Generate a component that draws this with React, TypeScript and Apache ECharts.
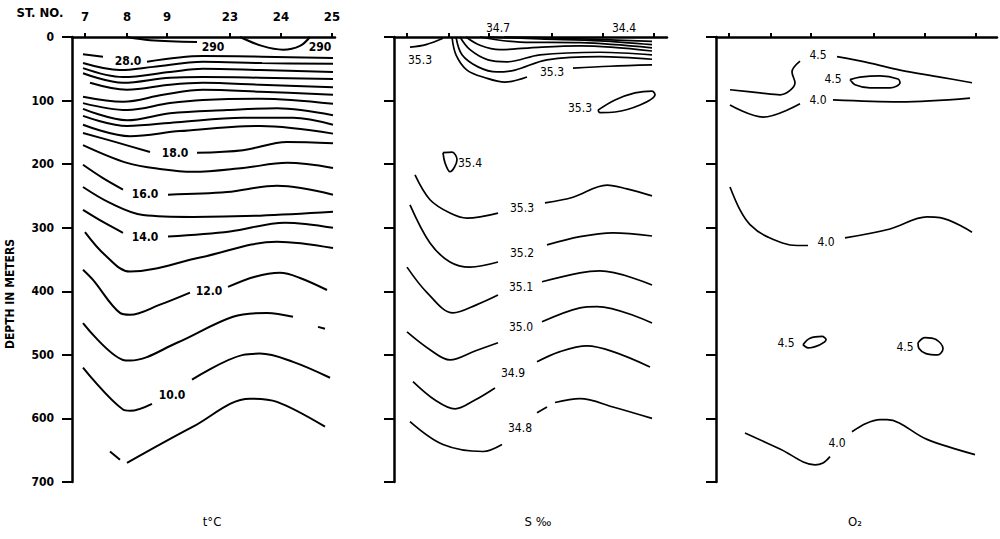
import React, { useEffect, useRef } from 'react';
import * as echarts from 'echarts';

// ---------- axes ----------
const depthMin = 0;
const depthMax = 700;
const depthStep = 100;
const stationNames = ['7', '8', '9', '23', '24', '25'];
const stationPos = [13, 55, 95, 158, 209, 260];
const panelWidths = [263, 273, 281];
const panelTitles = ['t°C', 'S ‰', 'O₂'];

// ---------- panel 1 : temperature (x = distance, y = depth m) ----------
const t29a = [[55, 0], [78, 5], [125, 8]];
const t29b = [[168, 0], [190, 14], [211, 20], [228, 14], [238, 0]];
const t28a = [[11, 27], [31, 31]];
const t28b = [[75, 39], [131, 30], [190, 31], [261, 33]];
const t27 = [[11, 41], [48, 52], [81, 47], [131, 39], [190, 41], [261, 42]];
const t26 = [[11, 49], [51, 63], [98, 55], [131, 50], [188, 52], [261, 55]];
const t25 = [[11, 57], [51, 72], [98, 64], [131, 63], [188, 64], [261, 66]];
const t24 = [[18, 72], [55, 83], [98, 75], [131, 72], [188, 75], [261, 79]];
const t23 = [[11, 94], [51, 102], [91, 91], [131, 83], [188, 86], [261, 91]];
const t22 = [[11, 104], [55, 115], [98, 104], [131, 99], [188, 97], [261, 105]];
const t21 = [[11, 113], [55, 131], [98, 120], [155, 115], [205, 112], [261, 123]];
const t20 = [[11, 124], [55, 140], [105, 134], [171, 127], [221, 127], [261, 138]];
const t19 = [[11, 138], [58, 156], [108, 148], [188, 140], [261, 152]];
const t18a = [[11, 151], [43, 165], [78, 181]];
const t18b = [[125, 182], [171, 178], [215, 165], [261, 167]];
const t17 = [[11, 170], [55, 198], [90, 208], [121, 212], [171, 206], [215, 198], [261, 206]];
const t16a = [[11, 201], [31, 222], [51, 240]];
const t16b = [[96, 248], [155, 244], [205, 234], [261, 248]];
const t15 = [[11, 236], [38, 261], [71, 280], [121, 283], [188, 281], [261, 275]];
const t14a = [[11, 272], [31, 291], [51, 308]];
const t14b = [[96, 314], [158, 306], [213, 292], [261, 300]];
const t13 = [[13, 307], [33, 343], [58, 369], [128, 347], [205, 322], [261, 332]];
const t12a = [[11, 366], [21, 382], [48, 434], [58, 437], [88, 421], [118, 402]];
const t12b = [[156, 393], [183, 377], [208, 371], [228, 379], [255, 398]];
const t11a = [[11, 450], [51, 508], [58, 509], [105, 481], [161, 440], [195, 434], [221, 440]];
const t11b = [[246, 456], [253, 459]];
const t10a = [[11, 520], [51, 586], [58, 588], [80, 577]];
const t10b = [[120, 539], [171, 500], [188, 498], [221, 511], [258, 536]];
const t9a = [[38, 652], [48, 665]];
const t9b = [[55, 670], [121, 613], [178, 569], [205, 574], [253, 613]];
const tempLines = [t29a, t29b, t28a, t28b, t27, t26, t25, t24, t23, t22, t21, t20, t19, t18a, t18b,
  t17, t16a, t16b, t15, t14a, t14b, t13, t12a, t12b, t11a, t11b, t10a, t10b, t9a, t9b];
const tempLabels: [number, number, string][] = [
  [141, 16, '290'], [248, 16, '290'], [56, 38, '28.0'], [103, 182, '18.0'],
  [73, 247, '16.0'], [73, 314, '14.0'], [137, 399, '12.0'], [100, 563, '10.0'],
];

// ---------- panel 2 : salinity ----------
const s353top = [[16, 16], [32, 12], [49, 2]];
const sAleft = [[58, 0], [62, 28], [73, 52], [91, 64], [111, 71], [133, 63]];
const sAright = [[179, 49], [216, 46], [258, 44]];
const sB = [[62, 0], [68, 28], [84, 47], [103, 55], [121, 52], [153, 36], [206, 31], [258, 35]];
const sC = [[66, 0], [76, 20], [94, 36], [113, 39], [146, 28], [206, 24], [258, 28]];
const sD = [[72, 0], [86, 13], [106, 20], [136, 17], [186, 14], [258, 22]];
const sE = [[86, 0], [126, 8], [186, 9], [258, 17]];
const sF = [[96, 0], [146, 3], [206, 6], [258, 12]];
const sG = [[110, 0], [166, 2], [258, 7]];
const s353eye = [[204, 115], [221, 99], [241, 88], [258, 85], [261, 91], [246, 107], [221, 118], [206, 119], [204, 115]];
const s354 = [[49, 182], [58, 181], [63, 193], [56, 212], [51, 198], [49, 182]];
const s353a = [[21, 217], [36, 256], [56, 277], [73, 285], [104, 277]];
const s353b = [[151, 261], [179, 252], [213, 233], [233, 239], [258, 250]];
const s352a = [[16, 264], [36, 324], [56, 354], [76, 362], [104, 354]];
const s352b = [[153, 327], [186, 314], [219, 308], [258, 313]];
const s351a = [[13, 362], [33, 402], [59, 434], [83, 421], [104, 406]];
const s351b = [[148, 385], [186, 371], [206, 368], [258, 390]];
const s350a = [[13, 464], [36, 492], [56, 508], [81, 494], [104, 481]];
const s350b = [[148, 448], [186, 426], [203, 424], [258, 450]];
const s349a = [[19, 542], [41, 571], [61, 585], [81, 571], [101, 552]];
const s349b = [[143, 511], [166, 495], [193, 486], [219, 495], [256, 519]];
const s348a = [[16, 605], [49, 641], [89, 652], [108, 641]];
const s348b = [[143, 591], [153, 582]];
const s348c = [[161, 575], [186, 569], [219, 582], [258, 600]];
const salLines = [s353top, sAleft, sAright, sB, sC, sD, sE, sF, sG, s353eye, s354, s353a, s353b,
  s352a, s352b, s351a, s351b, s350a, s350b, s349a, s349b, s348a, s348b, s348c];
const salLabels: [number, number, string][] = [
  [104, -14, '34.7'], [230, -14, '34.4'], [26, 36, '35.3'], [158, 55, '35.3'], [186, 112, '35.3'],
  [76, 198, '35.4'], [128, 269, '35.3'], [128, 340, '35.2'], [127, 393, '35.1'], [127, 456, '35.0'],
  [119, 528, '34.9'], [126, 615, '34.8'],
];

// ---------- panel 3 : oxygen ----------
const o45a = [[14, 83], [44, 88], [64, 91], [79, 72], [76, 55], [84, 38]];
const o45b = [[121, 31], [154, 41], [184, 52], [224, 63], [256, 72]];
const o45eye = [[134, 67], [144, 63], [164, 61], [182, 66], [184, 72], [174, 80], [154, 80], [139, 75], [134, 67]];
const o40a = [[14, 107], [47, 126], [84, 105]];
const o40b = [[117, 99], [184, 102], [254, 96]];
const o40ma = [[14, 236], [24, 272], [34, 295], [51, 314], [81, 328], [92, 328]];
const o40mb = [[129, 316], [174, 302], [211, 283], [224, 284], [256, 307]];
const o45l = [[87, 484], [94, 474], [106, 471], [110, 476], [104, 484], [92, 489], [87, 484]];
const o45r = [[202, 481], [209, 473], [220, 476], [227, 490], [222, 500], [210, 498], [203, 490], [202, 481]];
const o40ba = [[29, 623], [64, 648], [99, 673], [107, 670], [114, 660]];
const o40bb = [[136, 621], [150, 608], [164, 602], [171, 602], [211, 633], [259, 657]];
const oxyLines = [o45a, o45b, o45eye, o40a, o40b, o40ma, o40mb, o45l, o45r, o40ba, o40bb];
const oxyLabels: [number, number, string][] = [
  [102, 28, '4.5'], [117, 66, '4.5'], [102, 99, '4.0'], [110, 322, '4.0'],
  [70, 481, '4.5'], [189, 487, '4.5'], [121, 638, '4.0'],
];

const FONT = "'DejaVu Sans Condensed','Liberation Sans Narrow','DejaVu Sans',sans-serif";

export default function App() {
  const ref = useRef<HTMLDivElement>(null);
  useEffect(() => {
    if (!ref.current) return;
    const chart = echarts.init(ref.current, null, { renderer: 'svg' });
    const lefts = [72, 394, 716];
    const grids = lefts.map((l, i) => ({ left: l, top: 37, width: panelWidths[i], height: 445 }));
    const xAxes = panelWidths.map((w, i) => ({
      type: 'value', gridIndex: i, min: 0, max: w, position: 'top',
      axisLine: { show: true, onZero: false, lineStyle: { color: '#000', width: 2.5 } },
      axisTick: { show: true, inside: false, length: 4, customValues: stationPos, lineStyle: { color: '#000', width: 2 } },
      axisLabel: {
        show: i === 0, customValues: stationPos, margin: 14, color: '#000',
        fontFamily: FONT, fontWeight: 'bold', fontSize: 13,
        formatter: (v: number) => stationNames[stationPos.indexOf(v)] ?? '',
      },
      splitLine: { show: false },
    }));
    const yAxes = panelWidths.map((_, i) => ({
      type: 'value', gridIndex: i, inverse: true, min: depthMin, max: depthMax, interval: depthStep,
      axisLine: { show: true, onZero: false, lineStyle: { color: '#000', width: 2.5 } },
      axisTick: { show: true, length: 10, lineStyle: { color: '#000', width: 2 } },
      axisLabel: { show: i === 0, margin: 18, color: '#000', fontFamily: FONT, fontWeight: 'bold', fontSize: 12 },
      splitLine: { show: false },
    }));
    const series: any[] = [];
    const addLines = (g: number, lines: number[][][], w: number) => {
      lines.forEach((pts) => series.push({
        type: 'line', xAxisIndex: g, yAxisIndex: g, data: pts, smooth: 0.35, symbol: 'none',
        lineStyle: { color: '#000', width: w }, silent: true, clip: false, z: 3,
      }));
    };
    const addLabels = (g: number, labels: [number, number, string][], bold: boolean) => {
      series.push({
        type: 'scatter', xAxisIndex: g, yAxisIndex: g, symbolSize: 1, clip: false, silent: true,
        itemStyle: { color: 'rgba(0,0,0,0)' },
        data: labels.map((l) => ({ value: [l[0], l[1]], name: l[2] })),
        label: {
          show: true, position: 'inside', formatter: '{b}', color: '#000', opacity: 1,
          fontFamily: FONT, fontWeight: bold ? 'bold' : 'normal', fontSize: 12,
        },
        z: 5,
      });
    };
    addLines(0, tempLines, 2);
    addLines(1, salLines, 1.7);
    addLines(2, oxyLines, 1.7);
    addLabels(0, tempLabels, true);
    addLabels(1, salLabels, false);
    addLabels(2, oxyLabels, false);

    const titleX = [212, 538, 855];
    chart.setOption({
      animation: false,
      backgroundColor: '#fff',
      grid: grids,
      xAxis: xAxes,
      yAxis: yAxes,
      series,
      graphic: [
        { type: 'text', x: 40, y: 12, style: { text: 'ST. NO.', font: `bold 13px ${FONT}`, fill: '#000', align: 'center', verticalAlign: 'middle' } },
        { type: 'text', x: 10, y: 294, rotation: Math.PI / 2, style: { text: 'DEPTH IN METERS', font: `bold 12px ${FONT}`, fill: '#000', align: 'center', verticalAlign: 'middle' } },
        ...panelTitles.map((t, i) => ({
          type: 'text', x: titleX[i], y: 521,
          style: { text: t, font: `13px ${FONT}`, fill: '#000', align: 'center', verticalAlign: 'middle' },
        })),
      ],
    });
    return () => chart.dispose();
  }, []);
  return <div ref={ref} style={{ position: 'absolute', left: 0, top: 0, width: 1000, height: 539, background: '#fff' }} />;
}
